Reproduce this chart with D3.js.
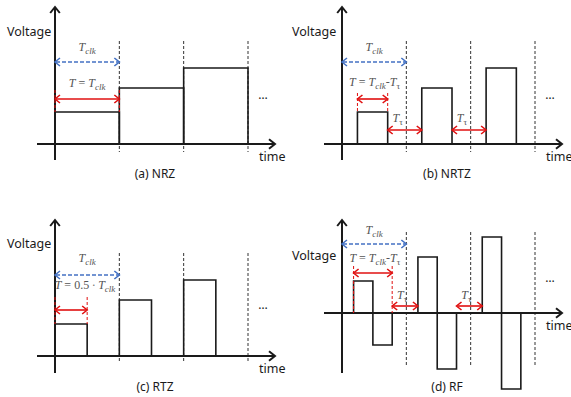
<!DOCTYPE html>
<html>
<head>
<meta charset="utf-8">
<script src="https://cdn.jsdelivr.net/npm/d3@7"></script>
<style>
  body { margin: 0; background: #fff; }
  svg { display: block; }
</style>
</head>
<body>
<div id="chart"></div>
<script>
// signal parameters (clock periods / voltage units)
const captions = ["(a) NRZ", "(b) NRTZ", "(c) RTZ", "(d) RF"]
const levels = [1, 1.75, 2.375]
const clockEdges = [1, 2, 3]
const nrtzOffset = 0.24, nrtzWidth = 0.47
const rtzWidth = 0.5
const rfOffset = 0.18, rfHalf = 0.3

// label pieces: [text, italic, subscript]
const tclkLabel = [["T", 1, 0], ["clk", 1, 1]]
const tauLabel = [["T", 1, 0], ["τ", 0, 1]]
const nrzLabel = [["T", 1, 0], [" = ", 0, 0], ["T", 1, 0], ["clk", 1, 1]]
const nrtzLabel = [["T", 1, 0], [" = ", 0, 0], ["T", 1, 0], ["clk", 1, 1], ["-", 0, 0], ["T", 1, 0], ["τ", 0, 1]]
const rtzLabel = [["T", 1, 0], [" = 0.5 ∙ ", 0, 0], ["T", 1, 0], ["clk", 1, 1]]

const W = 571, H = 397
const BLUE = "#4472c4", RED = "#e01010", INK = "#1a1a1a", MATH = "#555"

let svg = d3.select("#chart").append("svg")
  .attr("width", W)
  .attr("height", H)

// panel layout
let panels = [
  { ox: 55,  oy: 144, top: 7,   bot: 160, dTop: 41,  dBot: 152, vY: 36,  cY: 178, cX: 155,
    clkY: 62, clkT: 51, tY: 99, tT: 87, rTop: 90, dotY: 99, label: nrzLabel },
  { ox: 342, oy: 144, top: 7,   bot: 160, dTop: 41,  dBot: 152, vY: 36,  cY: 178, cX: 447,
    clkY: 62, clkT: 51, tY: 99, tT: 86, rTop: 93, dotY: 99, label: nrtzLabel, tauY: 130, tauT: 122 },
  { ox: 55,  oy: 356, top: 220, bot: 373, dTop: 253, dBot: 363, vY: 248, cY: 391, cX: 155,
    clkY: 275, clkT: 262, tY: 310, tT: 289, rTop: 297, dotY: 309, label: rtzLabel },
  { ox: 342, oy: 313, top: 220, bot: 373, dTop: 232, dBot: 365, vY: 260, cY: 391, cX: 447,
    clkY: 244, clkT: 234, tY: 273, tT: 262, rTop: 266, dotY: 282, label: nrtzLabel, tauY: 306, tauT: 299 }
]

function head(g, x, y, dx, dy, color, w, s) {
  // open chevron pointing in direction (dx,dy)
  let px = -dy, py = dx
  g.append("path")
    .attr("d", `M${x - dx * s + px * s * 0.8},${y - dy * s + py * s * 0.8} L${x},${y} L${x - dx * s - px * s * 0.8},${y - dy * s - py * s * 0.8}`)
    .attr("fill", "none")
    .attr("stroke", color)
    .attr("stroke-width", w)
}

function arrow(g, x1, x2, y, color, dash) {
  g.append("line")
    .attr("x1", x1 + 1).attr("x2", x2 - 1).attr("y1", y).attr("y2", y)
    .attr("stroke", color).attr("stroke-width", 1.6)
    .attr("stroke-dasharray", dash ? "4,2" : null)
  head(g, x1, y, -1, 0, color, 1.6, 5)
  head(g, x2, y, 1, 0, color, 1.6, 5)
}

function mathText(g, x, y, parts, size) {
  let t = g.append("text")
    .attr("x", x).attr("y", y)
    .attr("text-anchor", "middle")
    .attr("font-family", "'Liberation Serif', 'DejaVu Serif', serif")
    .attr("font-size", size)
    .attr("fill", MATH)
  let sub = false
  parts.forEach(p => {
    let s = t.append("tspan").text(p[0])
      .attr("font-style", p[1] ? "italic" : "normal")
    if (p[2] && !sub) { s.attr("dy", 3).attr("font-size", size * 0.75); sub = true }
    else if (!p[2] && sub) { s.attr("dy", -3); sub = false }
    else if (p[2]) s.attr("font-size", size * 0.75)
  })
}

function plainText(g, x, y, txt, anchor, size) {
  g.append("text")
    .attr("x", x).attr("y", y)
    .attr("text-anchor", anchor)
    .attr("font-family", "'Noto Sans', 'Open Sans', sans-serif")
    .attr("font-size", size)
    .attr("fill", INK)
    .text(txt)
}

// pulse shapes per panel: arrays of [t0, t1, level]
function pulses(i) {
  if (i == 0) return levels.map((v, k) => [k, k + 1, v])
  if (i == 1) return levels.map((v, k) => [k + nrtzOffset, k + nrtzOffset + nrtzWidth, v])
  if (i == 2) return levels.map((v, k) => [k, k + rtzWidth, v])
  let out = []
  levels.forEach((v, k) => {
    out.push([k + rfOffset, k + rfOffset + rfHalf, v])
    out.push([k + rfOffset + rfHalf, k + rfOffset + 2 * rfHalf, -v])
  })
  return out
}

panels.forEach((p, i) => {
  let g = svg.append("g")
  let x = d3.scaleLinear().domain([0, 3]).range([p.ox, p.ox + 193])
  let y = d3.scaleLinear().domain([0, 1]).range([p.oy, p.oy - 32])

  // clock edges
  g.selectAll(".clk").data(clockEdges).enter().append("line")
    .attr("x1", d => x(d)).attr("x2", d => x(d))
    .attr("y1", p.dTop).attr("y2", p.dBot)
    .attr("stroke", "#333").attr("stroke-width", 1)
    .attr("stroke-dasharray", "3,2")

  // signal
  g.selectAll(".pulse").data(pulses(i)).enter().append("path")
    .attr("d", d => `M${x(d[0])},${y(0)} V${y(d[2])} H${x(d[1])} V${y(0)}`)
    .attr("fill", "none")
    .attr("stroke", INK)
    .attr("stroke-width", 1.6)

  // axes
  g.append("line").attr("x1", p.ox).attr("x2", p.ox).attr("y1", p.bot).attr("y2", p.top + 1)
    .attr("stroke", INK).attr("stroke-width", 2)
  head(g, p.ox, p.top, 0, -1, INK, 2, 6)
  g.append("line").attr("x1", p.ox - 18).attr("x2", p.ox + 219).attr("y1", p.oy).attr("y2", p.oy)
    .attr("stroke", INK).attr("stroke-width", 2)
  head(g, p.ox + 220, p.oy, 1, 0, INK, 2, 6)

  // Tclk arrow
  arrow(g, x(0), x(1), p.clkY, BLUE, true)
  mathText(g, (x(0) + x(1)) / 2, p.clkT, tclkLabel, 12)

  // T arrow
  let t0, t1
  if (i == 0) { t0 = 0; t1 = 1 }
  else if (i == 1) { t0 = nrtzOffset; t1 = nrtzOffset + nrtzWidth }
  else if (i == 2) { t0 = 0; t1 = rtzWidth }
  else { t0 = rfOffset; t1 = rfOffset + 2 * rfHalf }
  let rBot = i == 3 ? p.oy : y(levels[0])
  ;[t0, t1].forEach(t => {
    g.append("line").attr("x1", x(t)).attr("x2", x(t)).attr("y1", p.rTop).attr("y2", rBot)
      .attr("stroke", RED).attr("stroke-width", 1).attr("stroke-dasharray", "3,2")
  })
  arrow(g, x(t0), x(t1), p.tY, RED, false)
  let lx = i == 2 ? 85 : (x(t0) + x(t1)) / 2 + (i == 0 ? 0 : 2)
  mathText(g, lx, p.tT, p.label, 12)

  // T_tau gaps
  if (i == 1 || i == 3) {
    let end = i == 1 ? nrtzOffset + nrtzWidth : rfOffset + 2 * rfHalf
    let start = i == 1 ? nrtzOffset : rfOffset
    ;[0, 1].forEach(k => {
      let a = x(k + end), b = x(k + 1 + start)
      arrow(g, a, b, p.tauY, RED, false)
      mathText(g, a + 10, p.tauT, tauLabel, 12)
    })
  }

  // texts
  plainText(g, i % 2 ? 292 : 7, p.vY, "Voltage", "start", 12.5)
  plainText(g, p.ox + 204, p.oy + 17, "time", "start", 12.5)
  plainText(g, p.ox + 208, p.dotY, "…", "middle", 12)
  plainText(g, p.cX, p.cY, captions[i], "middle", 12)
})
</script>
</body>
</html>
